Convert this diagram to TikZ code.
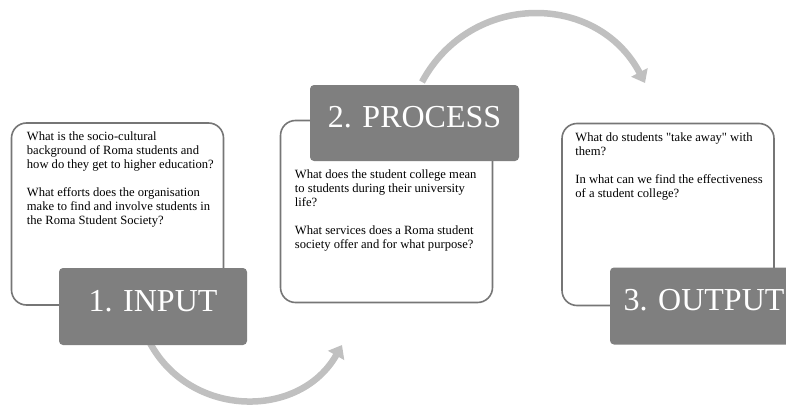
\documentclass[tikz,border=0pt]{standalone}
\usepackage{fontspec}
\setmainfont{Liberation Serif}[Ligatures=TeXOff]
\usetikzlibrary{arrows.meta,positioning}
\definecolor{framegray}{RGB}{118,118,118}
\definecolor{tabgray}{RGB}{127,127,127}
\definecolor{arcgray}{RGB}{192,192,192}
\tikzstyle{qbox}=[draw=framegray,line width=1.6pt,fill=white,rounded corners=15pt,minimum width=212pt,minimum height=182pt,inner sep=0pt]
\tikzstyle{tab}=[fill=tabgray,rounded corners=4pt,text=white,font=\fontsize{32}{32}\selectfont,text depth=12pt,minimum height=77pt,inner sep=0pt]
\tikzstyle{qtext}=[anchor=north west,inner sep=0pt,align=left,font=\fontsize{12.6}{14}\selectfont]
\tikzstyle{turn}=[draw=arcgray,line width=6.5pt,-{Triangle[width=18pt,length=12pt]}]

\begin{document}
\begin{tikzpicture}[x=1pt,y=1pt]
		\useasboundingbox (0,0) rectangle (786,-404);
		% ends of the two curved arrows
		\coordinate (in-a) at (150,-343);
		\coordinate (in-b) at (342,-345);
		\coordinate (pr-a) at (422,-82);
		\coordinate (pr-b) at (645,-83);
		
		\draw[turn] (in-a) to[bend right=61,looseness=1.14] (in-b);
		\draw[turn] (pr-a) to[bend left=62,looseness=1.18] (pr-b);
		
		\node[qbox] (box1) at (117.5,-214) {};
		\node[qbox] (box2) at (386.5,-211.5) {};
		\node[qbox] (box3) at (668,-214.5) {};
		
		\node[qtext] (q1) at ([xshift=16pt,yshift=-9pt]box1.north west) {What is the socio-cultural\\background of Roma students and\\how do they get to higher education?\\[14pt]What efforts does the organisation\\make to find and involve students in\\the Roma Student Society?};
		\node[qtext] (q2) at ([xshift=15pt,yshift=-49.5pt]box2.north west) {What does the student college mean\\to students during their university\\life?\\[14pt]What services does a Roma student\\society offer and for what purpose?};
		\node[qtext] (q3) at ([xshift=14pt,yshift=-9.5pt]box3.north west) {What do students "take away" with\\them?\\[14pt]In what can we find the effectiveness\\of a student college?};
		
		\node[tab,minimum width=188pt] (tab1) at (153,-306.5) {1. INPUT};
		\node[tab,minimum width=209pt,minimum height=76pt] (tab2) at (414.5,-123) {2. PROCESS};
		\node[tab,minimum width=188pt] (tab3) at (704,-306) {3. OUTPUT};
\end{tikzpicture}
\end{document}
